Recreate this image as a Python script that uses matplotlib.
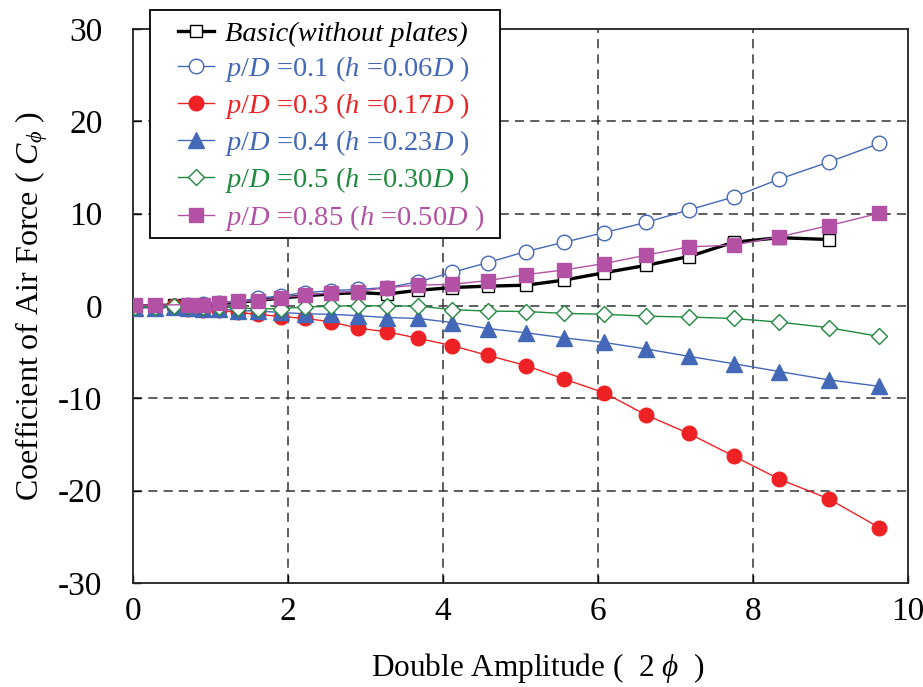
import numpy as np
import matplotlib
matplotlib.use("Agg")
import matplotlib.pyplot as plt
from matplotlib.patches import Rectangle

plt.rcParams['font.family'] = ['Liberation Serif', 'DejaVu Serif']
plt.rcParams['mathtext.fontset'] = 'custom'
plt.rcParams['mathtext.rm'] = 'Liberation Serif'
plt.rcParams['mathtext.it'] = 'Liberation Serif:italic'
plt.rcParams['mathtext.bf'] = 'Liberation Serif:bold'

# double amplitude positions
x_all = [0.03, 0.29, 0.53, 0.71, 0.90, 1.11, 1.35, 1.61, 1.91, 2.22, 2.55, 2.90,
         3.28, 3.68, 4.12, 4.58, 5.07, 5.56, 6.08, 6.62, 7.17, 7.75, 8.34, 8.98, 9.63]
x_basic = x_all[:-1]
x_085 = [v for v in x_all if v != 0.53]

basic = [0, 0.05, 0.1, 0.1, 0.15, 0.25, 0.4, 0.6, 0.85, 1.1, 1.3, 1.45,
         1.3, 1.7, 2.0, 2.15, 2.25, 2.8, 3.6, 4.4, 5.35, 6.9, 7.4, 7.2]
pd01 = [0, 0, 0.05, 0.1, 0.2, 0.3, 0.45, 0.85, 1.1, 1.45, 1.65, 1.8,
        2.0, 2.6, 3.65, 4.7, 5.9, 6.9, 7.95, 9.05, 10.4, 11.8, 13.75, 15.6, 17.6]
pd03 = [0, 0, 0.05, -0.3, -0.4, -0.45, -0.7, -0.9, -1.15, -1.35, -1.7, -2.4,
        -2.8, -3.5, -4.3, -5.35, -6.45, -7.9, -9.4, -11.8, -13.8, -16.25, -18.75, -20.9, -24.0]
pd04 = [-0.2, -0.2, -0.15, -0.2, -0.3, -0.3, -0.5, -0.55, -0.7, -0.85, -0.9, -1.05,
        -1.25, -1.35, -1.8, -2.45, -2.9, -3.45, -3.95, -4.65, -5.45, -6.25, -7.1, -8.0, -8.7]
pd05 = [-0.1, -0.1, 0, 0, -0.1, -0.1, -0.2, -0.3, -0.3, -0.1, -0.05, 0.05,
        0, 0, -0.4, -0.55, -0.6, -0.8, -0.9, -1.1, -1.2, -1.35, -1.75, -2.35, -3.3]
pd085 = [0.1, 0.1, 0.15, 0.15, 0.35, 0.5, 0.55, 0.9, 1.15, 1.45, 1.55, 2.0,
         2.25, 2.35, 2.75, 3.4, 3.9, 4.6, 5.5, 6.4, 6.6, 7.5, 8.7, 10.05]

blue = '#4468B8'
red = '#EE2224'
green = '#1F8A3E'
magenta = '#B352A4'

fig = plt.figure(figsize=(9.23, 6.87), dpi=100)
ax = fig.add_axes([0.1441, 0.1514, 0.8396, 0.8064])

ax.plot(x_basic, basic, color='black', lw=2.4, marker='s', ms=9, mfc='white',
        mec='black', mew=1.0, label='Basic(without plates)', zorder=3)
ax.plot(x_all, pd01, color=blue, lw=1.0, marker='o', ms=10.5, mfc='white',
        mec=blue, mew=1.0, label=r'$p/D$ =0.1 ($h$ =0.06$D$ )', zorder=3)
ax.plot(x_all, pd03, color=red, lw=1.0, marker='o', ms=10.5, mfc=red,
        mec=red, label=r'$p/D$ =0.3 ($h$ =0.17$D$ )', zorder=3)
ax.plot(x_all, pd04, color=blue, lw=1.0, marker='^', ms=11, mfc=blue,
        mec=blue, label=r'$p/D$ =0.4 ($h$ =0.23$D$ )', zorder=3)
ax.plot(x_all, pd05, color=green, lw=1.0, marker='D', ms=8, mfc='white',
        mec=green, mew=1.0, label=r'$p/D$ =0.5 ($h$ =0.30$D$ )', zorder=3)
ax.plot(x_085, pd085, color=magenta, lw=1.0, marker='s', ms=9.5, mfc=magenta,
        mec=magenta, label=r'$p/D$ =0.85 ($h$ =0.50$D$ )', zorder=3)

ax.set_xlim(0, 10)
ax.set_ylim(-30, 30)
ax.set_xticks([0, 2, 4, 6, 8, 10])
ax.set_yticks([-30, -20, -10, 0, 10, 20, 30])
ax.set_yticklabels(['-30', '-20', '-10', '0', '10', '20', '30'])

for v in [2, 4, 6, 8]:
    ax.axvline(v, color='#333333', lw=1.1, ls=(0, (6, 4)), zorder=1)
for v in [-20, -10, 0, 10, 20]:
    ax.axhline(v, color='#333333', lw=1.1, ls=(0, (6, 4)), zorder=1)

ax.tick_params(direction='in', length=6, width=1.0, labelsize=24, colors='black')
ax.tick_params(axis='y', pad=22)
ax.tick_params(axis='x', pad=10)
for s in ax.spines.values():
    s.set_linewidth(1.3)
    s.set_color('#222222')

ax.set_xlabel(r'Double Amplitude (  2 $\phi$  )', fontsize=22.5)
ax.xaxis.set_label_coords(0.522, -0.122)
ax.set_ylabel(r'Coefficient of Air Force ( $C_{\phi}$ )', fontsize=23, labelpad=6)

# legend frame drawn separately so the padding can be wider at the sides
frame = Rectangle((150 / 923, 1 - 238 / 687), 350 / 923, 228 / 687,
                  transform=fig.transFigure, facecolor='white', edgecolor='black',
                  lw=1.3, zorder=4, clip_on=False)
ax.add_patch(frame)

leg = ax.legend(loc='upper left', bbox_to_anchor=(178 / 923, 1 - 21 / 687),
                bbox_transform=fig.transFigure, borderaxespad=0, borderpad=0,
                fontsize=20.5, frameon=False, handlelength=1.25, handletextpad=0.4,
                labelspacing=0.25)
leg.set_zorder(5)
text_colors = ['black', blue, red, blue, green, magenta]
for t, c in zip(leg.get_texts(), text_colors):
    t.set_color(c)
leg.get_texts()[0].set_fontstyle('italic')

fig.savefig('out.png', dpi=100)
